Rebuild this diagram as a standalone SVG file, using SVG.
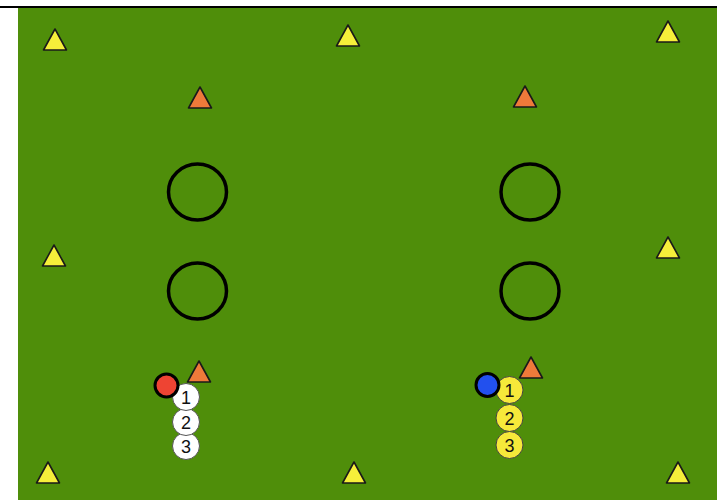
<svg xmlns="http://www.w3.org/2000/svg" xmlns:xlink="http://www.w3.org/1999/xlink" width="717" height="500" viewBox="0 0 717 500">
<style>
.cone{stroke:#1a1a1a;stroke-width:1.6;stroke-linejoin:round}
.yc{fill:#f6ef3a}
.oc{fill:#ef7a3a}
.ring{fill:none;stroke:#000;stroke-width:3.5}
.pw{fill:#fff;stroke:#555;stroke-width:1}
.py{fill:#f6e93a;stroke:#444;stroke-width:1}
.num{font-family:"Liberation Sans",Arial,sans-serif;font-size:18px;fill:#111;text-anchor:middle}
</style>
<defs>
<path id="tri" d="M0,0 L11.5,21 L-11.5,21 Z"/>
</defs>
<rect x="0" y="0" width="717" height="500" fill="#fff"/>
<rect x="0" y="6" width="717" height="2" fill="#000"/>
<rect x="18" y="8" width="699" height="492" fill="#4f8e0a"/>
<g id="yellow-cones">
<use xlink:href="#tri" href="#tri" class="cone yc" x="55" y="29"/>
<use xlink:href="#tri" href="#tri" class="cone yc" x="348" y="25"/>
<use xlink:href="#tri" href="#tri" class="cone yc" x="668" y="21"/>
<use xlink:href="#tri" href="#tri" class="cone yc" x="54" y="245"/>
<use xlink:href="#tri" href="#tri" class="cone yc" x="668" y="237"/>
<use xlink:href="#tri" href="#tri" class="cone yc" x="48" y="462"/>
<use xlink:href="#tri" href="#tri" class="cone yc" x="354" y="462"/>
<use xlink:href="#tri" href="#tri" class="cone yc" x="678" y="462"/>
</g>
<g id="orange-cones">
<use xlink:href="#tri" href="#tri" class="cone oc" x="200" y="87"/>
<use xlink:href="#tri" href="#tri" class="cone oc" x="525" y="86"/>
<use xlink:href="#tri" href="#tri" class="cone oc" x="199" y="361"/>
<use xlink:href="#tri" href="#tri" class="cone oc" x="531" y="357"/>
</g>
<g id="rings">
<ellipse class="ring" cx="197.5" cy="192" rx="29" ry="28"/>
<ellipse class="ring" cx="197.5" cy="291" rx="29" ry="28"/>
<ellipse class="ring" cx="530" cy="192" rx="29" ry="28"/>
<ellipse class="ring" cx="530" cy="291" rx="29" ry="28"/>
</g>
<g id="white-team">
<circle class="pw" cx="186" cy="446" r="13.5"/>
<text class="num" x="186" y="452.5">3</text>
<circle class="pw" cx="186" cy="422" r="13.5"/>
<text class="num" x="186" y="428.5">2</text>
<circle class="pw" cx="186" cy="397" r="13.5"/>
<text class="num" x="186" y="403.5">1</text>
<circle cx="166.5" cy="385.5" r="11.5" fill="#ee4433" stroke="#000" stroke-width="3"/>
</g>
<g id="yellow-team">
<circle class="py" cx="509.5" cy="445" r="13.5"/>
<text class="num" x="509.5" y="451.5">3</text>
<circle class="py" cx="509.5" cy="418" r="13.5"/>
<text class="num" x="509.5" y="424.5">2</text>
<circle class="py" cx="509.5" cy="390" r="13.5"/>
<text class="num" x="509.5" y="396.5">1</text>
<circle cx="487.5" cy="385" r="11.5" fill="#2250ee" stroke="#000" stroke-width="3"/>
</g>
</svg>
